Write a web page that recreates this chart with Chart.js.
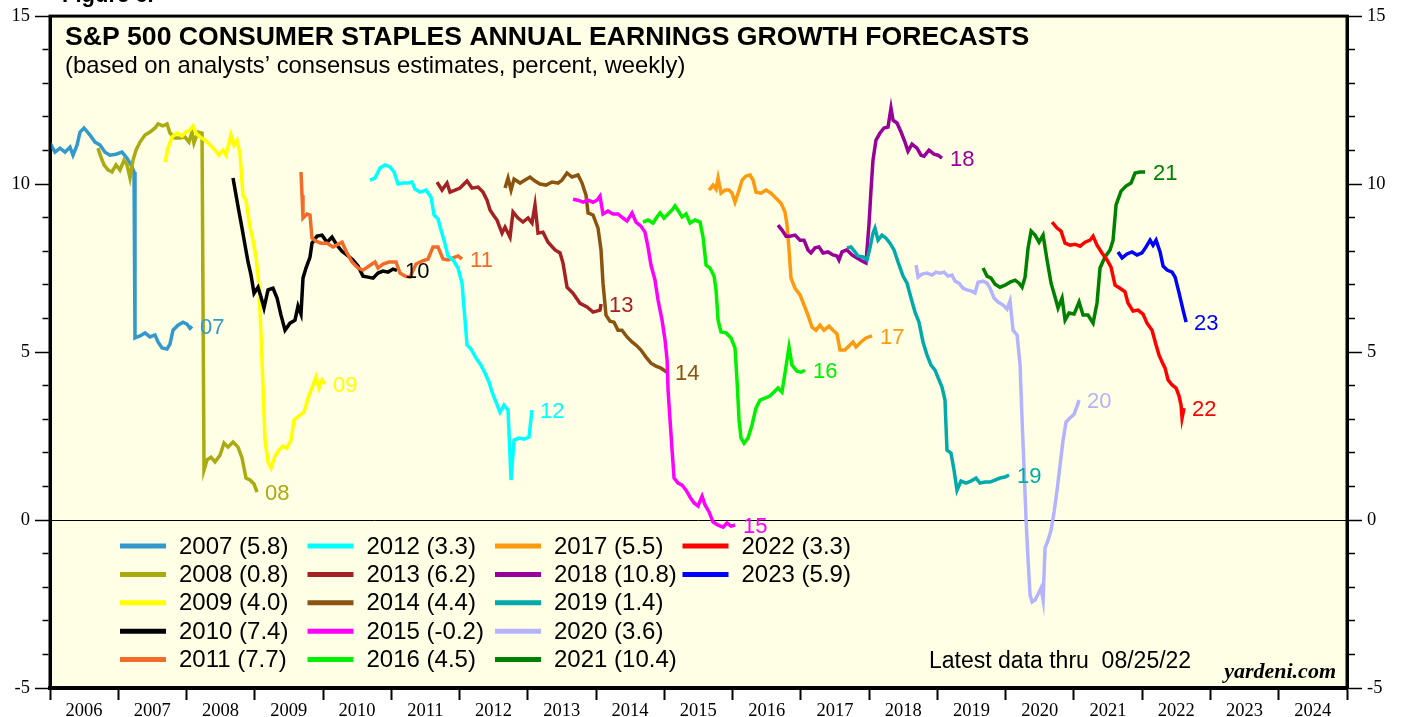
<!DOCTYPE html>
<html>
<head>
<meta charset="utf-8">
<script src="https://cdn.jsdelivr.net/npm/chart.js@4/dist/chart.umd.min.js"></script>
<style>
  body { margin: 0; background: #fff; }
</style>
</head>
<body>
<canvas id="chart" width="1405" height="717"></canvas>
<script>
// forecast years and the last value shown in the legend
const years = [2007, 2008, 2009, 2010, 2011, 2012, 2013, 2014, 2015, 2016, 2017, 2018, 2019, 2020, 2021, 2022, 2023];
const finalValues = [5.8, 0.8, 4.0, 7.4, 7.7, 3.3, 6.2, 4.4, -0.2, 4.5, 5.5, 10.8, 1.4, 3.6, 10.4, 3.3, 5.9];

// weekly forecasts, [date as decimal year, percent]
const f2007 = [[2006.000,11.22],[2006.073,10.95],[2006.147,11.07],[2006.220,10.95],[2006.293,11.10],[2006.337,10.86],[2006.396,11.16],[2006.440,11.55],[2006.498,11.67],[2006.586,11.46],[2006.659,11.25],[2006.733,11.16],[2006.806,10.95],[2006.879,10.86],[2006.967,10.89],[2007.055,10.95],[2007.128,10.77],[2007.187,10.57],[2007.231,10.36],[2007.245,5.42],[2007.318,5.48],[2007.392,5.57],[2007.465,5.45],[2007.538,5.51],[2007.582,5.30],[2007.641,5.12],[2007.714,5.09],[2007.758,5.24],[2007.802,5.65],[2007.875,5.80],[2007.948,5.89],[2008.007,5.83],[2008.051,5.71],[2008.080,5.77]];
const f2008 = [[2006.703,11.07],[2006.747,10.80],[2006.791,10.57],[2006.850,10.42],[2006.908,10.36],[2006.967,10.57],[2007.025,10.42],[2007.084,10.71],[2007.128,10.57],[2007.172,10.18],[2007.216,10.71],[2007.260,11.01],[2007.318,11.25],[2007.392,11.46],[2007.465,11.55],[2007.538,11.67],[2007.582,11.79],[2007.655,11.73],[2007.714,11.79],[2007.758,11.52],[2007.831,11.37],[2007.904,11.37],[2007.977,11.40],[2008.036,11.25],[2008.080,11.55],[2008.109,11.22],[2008.168,11.55],[2008.227,11.52],[2008.256,1.49],[2008.300,1.79],[2008.359,1.87],[2008.417,1.73],[2008.490,1.93],[2008.549,2.29],[2008.608,2.17],[2008.681,2.32],[2008.754,2.17],[2008.813,1.85],[2008.871,1.25],[2008.930,1.19],[2008.989,1.07],[2009.033,0.83]];
const f2009 = [[2007.685,10.65],[2007.729,11.07],[2007.787,11.40],[2007.861,11.52],[2007.934,11.43],[2007.992,11.55],[2008.051,11.61],[2008.095,11.73],[2008.139,11.52],[2008.197,11.40],[2008.271,11.31],[2008.344,11.16],[2008.417,11.01],[2008.476,10.86],[2008.534,11.01],[2008.578,10.86],[2008.651,11.46],[2008.695,11.16],[2008.739,11.31],[2008.783,10.92],[2008.827,9.67],[2008.871,9.52],[2008.930,8.72],[2008.974,8.33],[2009.018,7.83],[2009.062,6.99],[2009.106,4.76],[2009.150,2.38],[2009.194,1.73],[2009.238,1.55],[2009.296,1.90],[2009.355,2.08],[2009.413,2.20],[2009.472,2.14],[2009.531,2.38],[2009.575,2.98],[2009.648,3.10],[2009.721,3.21],[2009.780,3.63],[2009.838,3.93],[2009.897,4.26],[2009.941,3.93],[2009.985,4.17],[2010.029,4.05]];
const f2010 = [[2008.681,10.18],[2008.725,9.67],[2008.769,9.17],[2008.813,8.69],[2008.857,8.18],[2008.901,7.68],[2008.945,7.29],[2008.989,6.75],[2009.047,6.93],[2009.091,6.64],[2009.135,6.31],[2009.194,6.85],[2009.267,6.90],[2009.326,6.61],[2009.384,6.10],[2009.443,5.65],[2009.516,5.86],[2009.589,5.95],[2009.633,6.37],[2009.677,6.13],[2009.706,7.20],[2009.750,7.50],[2009.809,7.83],[2009.838,8.24],[2009.911,8.45],[2009.985,8.48],[2010.058,8.27],[2010.131,8.42],[2010.204,8.18],[2010.278,8.00],[2010.366,7.86],[2010.439,7.74],[2010.512,7.56],[2010.585,7.26],[2010.659,7.23],[2010.732,7.20],[2010.805,7.35],[2010.878,7.41],[2010.952,7.38],[2011.025,7.47],[2011.083,7.43]];
const f2011 = [[2009.677,10.36],[2009.692,9.67],[2009.706,8.99],[2009.765,9.11],[2009.809,9.08],[2009.838,8.39],[2009.897,8.30],[2009.970,8.24],[2010.058,8.24],[2010.146,8.13],[2010.219,8.21],[2010.278,8.27],[2010.351,7.95],[2010.424,7.68],[2010.512,7.50],[2010.585,7.44],[2010.673,7.56],[2010.761,7.68],[2010.805,7.50],[2010.878,7.62],[2010.966,7.68],[2011.069,7.68],[2011.127,7.35],[2011.201,7.26],[2011.274,7.23],[2011.362,7.62],[2011.450,7.71],[2011.538,7.77],[2011.611,8.13],[2011.684,8.13],[2011.757,7.77],[2011.831,7.74],[2011.904,7.80],[2011.977,7.86],[2012.036,7.77]];
const f2012 = [[2010.688,10.12],[2010.761,10.18],[2010.834,10.48],[2010.908,10.57],[2010.981,10.51],[2011.040,10.36],[2011.098,10.00],[2011.172,10.03],[2011.245,10.03],[2011.304,10.06],[2011.347,9.85],[2011.421,9.76],[2011.509,9.82],[2011.582,9.61],[2011.626,9.08],[2011.684,8.96],[2011.728,8.63],[2011.772,8.33],[2011.831,7.86],[2011.904,7.74],[2011.977,7.50],[2012.036,7.05],[2012.080,5.95],[2012.109,5.21],[2012.168,5.09],[2012.241,4.82],[2012.314,4.61],[2012.373,4.37],[2012.431,4.11],[2012.475,3.81],[2012.534,3.51],[2012.593,3.21],[2012.651,3.42],[2012.710,3.27],[2012.754,1.19],[2012.798,2.38],[2012.871,2.44],[2012.944,2.41],[2013.017,2.47],[2013.061,3.27]];
const f2013 = [[2011.670,10.06],[2011.743,9.82],[2011.816,10.03],[2011.860,9.76],[2011.933,9.82],[2012.006,9.88],[2012.109,10.09],[2012.182,9.88],[2012.270,9.91],[2012.343,9.76],[2012.402,9.52],[2012.446,9.23],[2012.505,9.05],[2012.548,8.93],[2012.622,8.54],[2012.666,8.72],[2012.739,8.42],[2012.783,9.17],[2012.856,8.99],[2012.929,8.87],[2013.003,8.99],[2013.061,8.84],[2013.105,9.38],[2013.149,8.54],[2013.222,8.57],[2013.296,8.27],[2013.398,8.04],[2013.472,7.95],[2013.515,7.65],[2013.574,6.93],[2013.662,6.75],[2013.764,6.45],[2013.867,6.34],[2013.955,6.19],[2014.057,6.25],[2014.072,6.43]];
const f2014 = [[2012.666,9.88],[2012.710,10.18],[2012.754,9.82],[2012.798,10.15],[2012.886,10.03],[2012.959,10.12],[2013.032,10.21],[2013.105,10.09],[2013.178,10.00],[2013.266,9.97],[2013.354,10.06],[2013.442,10.03],[2013.501,10.12],[2013.574,10.33],[2013.647,10.21],[2013.735,10.27],[2013.794,10.03],[2013.852,9.67],[2013.882,9.14],[2013.955,9.08],[2014.028,8.69],[2014.072,8.04],[2014.101,7.05],[2014.145,6.10],[2014.203,5.92],[2014.262,5.89],[2014.321,5.65],[2014.379,5.65],[2014.453,5.45],[2014.526,5.30],[2014.599,5.18],[2014.657,5.06],[2014.731,4.85],[2014.804,4.67],[2014.877,4.58],[2014.950,4.52],[2015.038,4.40]];
const f2015 = [[2013.662,9.55],[2013.735,9.52],[2013.809,9.46],[2013.882,9.52],[2013.955,9.46],[2014.013,9.52],[2014.057,9.64],[2014.101,9.11],[2014.174,9.20],[2014.247,9.11],[2014.321,9.11],[2014.394,8.99],[2014.453,8.90],[2014.526,9.14],[2014.585,8.87],[2014.657,8.75],[2014.716,8.57],[2014.760,8.13],[2014.804,7.59],[2014.863,7.14],[2014.907,6.55],[2014.966,5.95],[2015.010,5.36],[2015.040,4.76],[2015.054,3.87],[2015.083,2.98],[2015.113,2.08],[2015.142,1.25],[2015.201,1.10],[2015.259,1.04],[2015.318,0.89],[2015.376,0.68],[2015.435,0.51],[2015.494,0.42],[2015.552,0.71],[2015.596,0.45],[2015.655,0.24],[2015.713,-0.06],[2015.787,-0.15],[2015.860,-0.21],[2015.918,-0.09],[2015.977,-0.18],[2016.035,-0.15]];
const f2016 = [[2014.687,8.87],[2014.760,8.93],[2014.834,8.84],[2014.892,9.02],[2014.937,9.14],[2014.995,8.99],[2015.054,9.11],[2015.113,9.23],[2015.156,9.35],[2015.215,9.17],[2015.259,9.02],[2015.318,9.11],[2015.376,8.84],[2015.450,8.93],[2015.523,8.87],[2015.567,8.42],[2015.611,7.59],[2015.669,7.50],[2015.728,7.26],[2015.757,6.85],[2015.787,5.95],[2015.830,5.60],[2015.904,5.57],[2015.977,5.42],[2016.035,5.12],[2016.064,4.17],[2016.094,2.98],[2016.123,2.44],[2016.167,2.29],[2016.225,2.44],[2016.284,2.83],[2016.342,3.33],[2016.401,3.57],[2016.474,3.63],[2016.547,3.69],[2016.606,3.81],[2016.665,3.93],[2016.723,3.81],[2016.767,4.37],[2016.826,5.15],[2016.870,4.61],[2016.943,4.43],[2017.001,4.40],[2017.060,4.46]];
const f2017 = [[2015.654,9.82],[2015.713,9.97],[2015.757,9.85],[2015.787,10.18],[2015.830,9.73],[2015.889,9.82],[2015.948,9.82],[2015.992,9.73],[2016.035,9.46],[2016.094,9.82],[2016.138,10.12],[2016.196,10.24],[2016.255,10.27],[2016.299,10.12],[2016.343,9.76],[2016.416,9.73],[2016.489,9.82],[2016.562,9.73],[2016.636,9.58],[2016.709,9.43],[2016.767,9.17],[2016.797,8.78],[2016.826,8.04],[2016.855,7.20],[2016.914,6.90],[2016.987,6.70],[2017.046,6.40],[2017.104,6.10],[2017.163,5.74],[2017.221,5.65],[2017.280,5.80],[2017.338,5.65],[2017.412,5.77],[2017.470,5.65],[2017.529,5.54],[2017.573,5.06],[2017.646,5.06],[2017.704,5.18],[2017.763,5.30],[2017.807,5.15],[2017.880,5.30],[2017.953,5.42],[2018.042,5.48]];
const f2018 = [[2016.665,8.78],[2016.723,8.63],[2016.782,8.45],[2016.841,8.45],[2016.914,8.48],[2016.987,8.33],[2017.046,8.33],[2017.104,8.04],[2017.148,7.95],[2017.207,8.10],[2017.265,8.13],[2017.324,7.95],[2017.397,7.98],[2017.470,7.89],[2017.529,7.86],[2017.558,7.74],[2017.602,7.98],[2017.675,8.04],[2017.748,7.89],[2017.821,7.80],[2017.895,7.71],[2017.953,7.65],[2017.997,8.78],[2018.027,9.82],[2018.056,10.71],[2018.100,11.31],[2018.159,11.52],[2018.218,11.67],[2018.276,11.70],[2018.320,12.26],[2018.350,11.90],[2018.408,11.82],[2018.467,11.55],[2018.525,11.25],[2018.569,10.98],[2018.628,11.19],[2018.701,11.07],[2018.760,10.86],[2018.804,10.83],[2018.877,11.01],[2018.950,10.89],[2019.009,10.86],[2019.067,10.77]];
const f2019 = [[2017.675,8.10],[2017.734,8.13],[2017.792,7.98],[2017.836,7.86],[2017.909,7.83],[2017.968,7.74],[2018.012,8.10],[2018.056,8.54],[2018.085,8.69],[2018.130,8.33],[2018.188,8.48],[2018.247,8.39],[2018.305,8.24],[2018.364,8.04],[2018.423,7.68],[2018.496,7.26],[2018.555,7.05],[2018.613,6.61],[2018.672,6.19],[2018.730,5.89],[2018.789,5.30],[2018.848,4.91],[2018.906,4.61],[2018.965,4.46],[2019.023,4.17],[2019.067,3.96],[2019.111,3.57],[2019.140,2.08],[2019.199,1.99],[2019.243,1.49],[2019.287,0.89],[2019.345,1.16],[2019.418,1.10],[2019.491,1.16],[2019.565,1.25],[2019.623,1.10],[2019.697,1.13],[2019.770,1.13],[2019.843,1.19],[2019.917,1.25],[2019.990,1.28],[2020.049,1.34]];
const f2020 = [[2018.687,7.59],[2018.716,7.23],[2018.775,7.32],[2018.848,7.35],[2018.921,7.29],[2018.980,7.38],[2019.039,7.35],[2019.097,7.38],[2019.155,7.26],[2019.214,7.29],[2019.258,7.11],[2019.317,7.05],[2019.375,6.90],[2019.434,6.85],[2019.492,6.82],[2019.551,6.76],[2019.595,7.08],[2019.668,7.11],[2019.727,7.05],[2019.771,6.90],[2019.829,6.61],[2019.888,6.49],[2019.961,6.40],[2020.020,6.28],[2020.064,6.52],[2020.108,5.65],[2020.167,5.51],[2020.211,4.61],[2020.240,2.98],[2020.270,1.49],[2020.299,0.00],[2020.328,-1.19],[2020.357,-2.23],[2020.387,-2.44],[2020.431,-2.38],[2020.475,-2.20],[2020.518,-2.02],[2020.548,-2.38],[2020.577,-0.83],[2020.621,-0.60],[2020.665,-0.30],[2020.709,0.24],[2020.753,0.89],[2020.797,1.64],[2020.841,2.38],[2020.885,2.92],[2020.943,3.04],[2021.002,3.15],[2021.046,3.39],[2021.075,3.57]];
const f2021 = [[2019.668,7.50],[2019.727,7.26],[2019.785,7.20],[2019.844,7.02],[2019.917,6.93],[2019.990,6.99],[2020.064,7.08],[2020.138,7.14],[2020.196,7.05],[2020.240,6.93],[2020.284,7.23],[2020.328,8.10],[2020.372,8.60],[2020.431,8.48],[2020.489,8.27],[2020.548,8.48],[2020.606,7.74],[2020.665,7.05],[2020.723,6.64],[2020.767,6.31],[2020.826,6.61],[2020.870,5.95],[2020.928,6.16],[2021.002,6.13],[2021.075,6.49],[2021.133,6.10],[2021.206,6.10],[2021.280,5.86],[2021.338,6.46],[2021.382,7.50],[2021.455,7.83],[2021.529,8.04],[2021.573,8.33],[2021.617,9.38],[2021.690,9.79],[2021.763,9.94],[2021.836,10.03],[2021.895,10.33],[2021.968,10.36],[2022.041,10.36]];
const f2022 = [[2020.679,8.87],[2020.753,8.69],[2020.811,8.60],[2020.870,8.24],[2020.943,8.18],[2021.016,8.21],[2021.090,8.15],[2021.163,8.27],[2021.236,8.33],[2021.280,8.45],[2021.338,8.18],[2021.411,7.95],[2021.485,7.74],[2021.543,7.53],[2021.602,6.99],[2021.675,6.90],[2021.748,6.79],[2021.792,6.46],[2021.865,6.22],[2021.939,6.25],[2022.012,6.13],[2022.071,5.86],[2022.144,5.65],[2022.203,5.21],[2022.247,4.91],[2022.291,4.70],[2022.335,4.52],[2022.379,4.17],[2022.438,4.02],[2022.496,3.93],[2022.540,3.69],[2022.569,3.42],[2022.584,3.04],[2022.613,3.33]];
const f2023 = [[2021.646,7.98],[2021.705,7.80],[2021.778,7.92],[2021.851,7.98],[2021.924,7.89],[2021.997,7.95],[2022.056,8.13],[2022.115,8.33],[2022.159,8.18],[2022.203,8.33],[2022.262,7.98],[2022.306,7.56],[2022.365,7.44],[2022.438,7.38],[2022.482,7.23],[2022.540,6.76],[2022.599,6.25],[2022.643,5.89]];

const series = [f2007, f2008, f2009, f2010, f2011, f2012, f2013, f2014, f2015, f2016, f2017, f2018, f2019, f2020, f2021, f2022, f2023];

const colors = ["#3399CC", "#AAAA11", "#FFFF00", "#000000", "#F26B2A", "#00FFFF", "#A52224", "#8A5410", "#FF00FF",
  "#00F000", "#FF9910", "#990099", "#00AAAA", "#B3B3FF", "#008000", "#FF0000", "#0000FF"];

const SANS = "'Liberation Sans', Arial, sans-serif";
const SERIF = "'Liberation Serif', 'Times New Roman', serif";

// background, frame, zero line
const frame = {
  id: "frame",
  beforeDraw(chart) {
    const { ctx, chartArea: a } = chart;
    ctx.save();
    ctx.fillStyle = "#fff";
    ctx.fillRect(0, 0, chart.width, chart.height);
    ctx.fillStyle = "#FFFFE5";
    ctx.fillRect(a.left, a.top, a.right - a.left, a.bottom - a.top);
    ctx.restore();
  },
  beforeDatasetsDraw(chart) {
    const { ctx, chartArea: a, scales } = chart;
    const y0 = Math.round(scales.y.getPixelForValue(0)) + 0.5;
    ctx.save();
    ctx.strokeStyle = "#000";
    ctx.lineWidth = 1;
    ctx.beginPath();
    ctx.moveTo(a.left, y0);
    ctx.lineTo(a.right, y0);
    ctx.stroke();
    ctx.restore();
  },
  afterDraw(chart) {
    const { ctx, chartArea: a } = chart;
    ctx.save();
    ctx.strokeStyle = "#000";
    ctx.lineWidth = 3;
    ctx.strokeRect(a.left, a.top, a.right - a.left, a.bottom - a.top);
    ctx.restore();
  },
};

// titles, notes, end labels and the legend
const texts = {
  id: "texts",
  afterDatasetsDraw(chart) {
    const { ctx, chartArea: a } = chart;
    ctx.save();
    ctx.fillStyle = "#000";
    ctx.textBaseline = "alphabetic";
    ctx.textAlign = "left";
    ctx.font = "bold 22px " + SANS;
    ctx.fillText("Figure 6.", 62, 2);
    ctx.font = "bold 26.6px " + SANS;
    ctx.fillText("S&P 500 CONSUMER STAPLES ANNUAL EARNINGS GROWTH FORECASTS", a.left + 15, a.top + 29);
    ctx.font = "23.8px " + SANS;
    ctx.fillText("(based on analysts\u2019 consensus estimates, percent, weekly)", a.left + 15, a.top + 57);

    ctx.font = "23px " + SANS;
    ctx.fillText("Latest data thru  08/25/22", 929, 668);
    ctx.font = "italic bold 22px " + SERIF;
    ctx.textAlign = "right";
    ctx.fillText("yardeni.com", a.right - 11, a.bottom - 10);

    // year labels at the end of each line
    ctx.textAlign = "left";
    ctx.textBaseline = "middle";
    ctx.font = "22px " + SANS;
    chart.data.datasets.forEach((ds, i) => {
      const pts = chart.getDatasetMeta(i).data;
      const last = pts[pts.length - 1];
      ctx.fillStyle = ds.borderColor;
      ctx.fillText(String(years[i]).slice(2), last.x + 8, last.y + 2);
    });

    // legend, 5 rows per column
    ctx.font = "24px " + SANS;
    years.forEach((yr, i) => {
      const col = Math.floor(i / 5);
      const row = i % 5;
      const x = 120 + col * 187.5;
      const y = 546 + row * 28.4;
      ctx.strokeStyle = colors[i];
      ctx.lineWidth = 5;
      ctx.beginPath();
      ctx.moveTo(x, y);
      ctx.lineTo(x + 46, y);
      ctx.stroke();
      ctx.fillStyle = "#000";
      ctx.fillText(yr + " (" + finalValues[i].toFixed(1) + ")", x + 59, y + 1);
    });
    ctx.restore();
  },
};

const yAxis = (position, width) => ({
  type: "linear",
  position: position,
  min: -5,
  max: 15,
  afterFit: (scale) => { scale.width = width; },
  border: { display: true, width: 3, color: "#000" },
  grid: {
    drawOnChartArea: false,
    tickLength: 15,
    tickWidth: 1.5,
    tickColor: "#000",
    // short ticks for single units, long ones for every 5
    tickBorderDash: (c) => (c.tick && c.tick.value % 5 !== 0 ? [6, 100] : []),
    tickBorderDashOffset: (c) => (c.tick && c.tick.value % 5 !== 0 && position === "left" ? 98.5 : 0),
  },
  ticks: {
    stepSize: 1,
    autoSkip: false,
    padding: 5,
    color: "#000",
    font: { family: SERIF, size: 18.5 },
    callback: (v) => (v % 5 === 0 ? String(v) : ""),
  },
});

new Chart(document.getElementById("chart"), {
  type: "line",
  data: {
    datasets: series.map((s, i) => ({
      label: String(years[i]),
      data: s.map((p) => ({ x: p[0], y: p[1] })),
      borderColor: colors[i],
      borderWidth: 3.5,
      pointRadius: 0,
      tension: 0,
      order: years.length - i,
    })),
  },
  options: {
    responsive: false,
    animation: false,
    devicePixelRatio: 1,
    layout: { padding: { top: 16, left: 0, right: 0, bottom: 0 } },
    plugins: { legend: { display: false }, tooltip: { enabled: false } },
    scales: {
      x: {
        type: "linear",
        min: 2006,
        max: 2025,
        afterFit: (scale) => { scale.height = 29; },
        border: { display: true, width: 4, color: "#000" },
        grid: { drawOnChartArea: false, tickLength: 12, tickWidth: 2, tickColor: "#000" },
        ticks: {
          stepSize: 1,
          autoSkip: false,
          maxRotation: 0,
          padding: 0,
          labelOffset: 34,
          color: "#000",
          font: { family: SERIF, size: 18.5 },
          callback: (v) => (v < 2025 ? String(v) : ""),
        },
      },
      y: yAxis("left", 50),
      y2: yAxis("right", 58),
    },
  },
  plugins: [frame, texts],
});
</script>
</body>
</html>
